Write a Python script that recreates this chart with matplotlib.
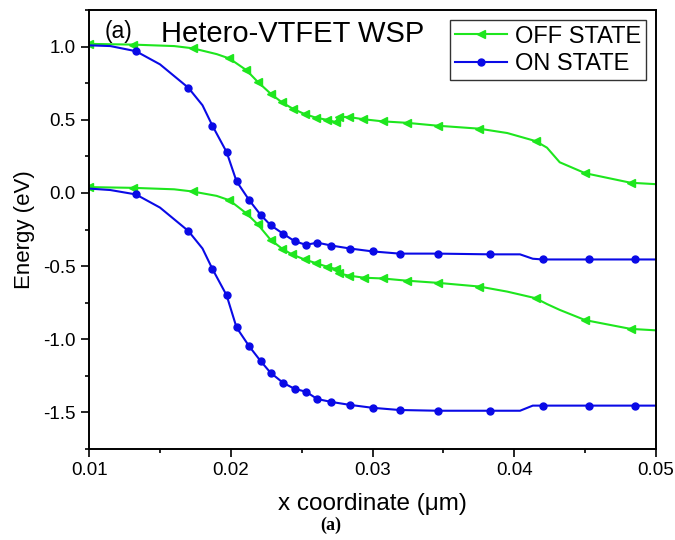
import matplotlib
matplotlib.use("Agg")
import matplotlib.pyplot as plt
from matplotlib.ticker import MultipleLocator, FuncFormatter

plt.rcParams["font.family"] = ["Liberation Sans", "DejaVu Sans"]

# ON STATE, conduction band (upper blue)
on_cb_x = [0.0100, 0.0115, 0.0133, 0.0150, 0.0170, 0.0180, 0.0187, 0.0197, 0.0204,
           0.0213, 0.0221, 0.0228, 0.0237, 0.0245, 0.0253, 0.0261, 0.0271, 0.0284,
           0.0300, 0.0319, 0.0346, 0.0383, 0.0404, 0.0413, 0.0420, 0.0453, 0.0485, 0.0500]
on_cb_y = [1.010, 1.005, 0.970, 0.880, 0.720, 0.600, 0.460, 0.280, 0.080,
           -0.050, -0.150, -0.220, -0.280, -0.330, -0.355, -0.340, -0.360, -0.380,
           -0.400, -0.415, -0.415, -0.420, -0.420, -0.450, -0.455, -0.455, -0.455, -0.455]

# ON STATE, valence band (lower blue)
on_vb_x = [0.0100, 0.0115, 0.0133, 0.0150, 0.0170, 0.0180, 0.0187, 0.0197, 0.0204,
           0.0213, 0.0221, 0.0228, 0.0237, 0.0245, 0.0253, 0.0261, 0.0271, 0.0284,
           0.0300, 0.0319, 0.0346, 0.0383, 0.0404, 0.0413, 0.0420, 0.0453, 0.0485, 0.0500]
on_vb_y = [0.030, 0.020, -0.010, -0.100, -0.260, -0.380, -0.520, -0.700, -0.920,
           -1.050, -1.150, -1.230, -1.300, -1.340, -1.360, -1.410, -1.430, -1.450,
           -1.470, -1.485, -1.490, -1.490, -1.490, -1.455, -1.455, -1.455, -1.455, -1.455]
on_marks = [2, 4, 6, 7, 8, 9, 10, 11, 12, 13, 14, 15, 16, 17, 18, 19, 20, 21, 24, 25, 26]

# OFF STATE, conduction band (upper green)
off_cb_x = [0.0100, 0.0131, 0.0160, 0.0173, 0.0190, 0.0199, 0.0211, 0.0219, 0.0228,
            0.0236, 0.0244, 0.0252, 0.0260, 0.0268, 0.0274, 0.0276, 0.0283, 0.0293,
            0.0307, 0.0324, 0.0346, 0.0375, 0.0395, 0.0415, 0.0423, 0.0432, 0.0450,
            0.0482, 0.0500]
off_cb_y = [1.020, 1.015, 1.005, 0.990, 0.950, 0.920, 0.840, 0.760, 0.680,
            0.620, 0.575, 0.540, 0.515, 0.500, 0.485, 0.520, 0.520, 0.505,
            0.490, 0.480, 0.460, 0.440, 0.410, 0.355, 0.310, 0.210, 0.135,
            0.070, 0.060]

# OFF STATE, valence band (lower green)
off_vb_x = [0.0100, 0.0131, 0.0160, 0.0173, 0.0190, 0.0199, 0.0211, 0.0219, 0.0228,
            0.0236, 0.0243, 0.0252, 0.0260, 0.0268, 0.0274, 0.0276, 0.0283, 0.0294,
            0.0307, 0.0324, 0.0346, 0.0375, 0.0395, 0.0415, 0.0423, 0.0432, 0.0450,
            0.0482, 0.0500]
off_vb_y = [0.040, 0.035, 0.025, 0.010, -0.020, -0.050, -0.140, -0.215, -0.320,
            -0.380, -0.420, -0.455, -0.480, -0.505, -0.520, -0.550, -0.565, -0.580,
            -0.585, -0.600, -0.615, -0.640, -0.675, -0.720, -0.760, -0.800, -0.870,
            -0.930, -0.940]
off_marks = [0, 1, 3, 5, 6, 7, 8, 9, 10, 11, 12, 13, 14, 15, 16, 17, 18, 19, 20, 21, 23, 26, 27]

GREEN = "#1ee61e"
BLUE = "#0a0ae6"

fig = plt.figure(figsize=(6.75, 5.4), dpi=100)
ax = fig.add_axes([0.132, 0.169, 0.840, 0.812])

ax.plot(off_cb_x, off_cb_y, color=GREEN, lw=1.5, marker="<", ms=6,
        markevery=off_marks, label="OFF STATE")
ax.plot(on_cb_x, on_cb_y, color=BLUE, lw=1.5, marker="o", ms=5,
        markevery=on_marks, label="ON STATE")
ax.plot(off_vb_x, off_vb_y, color=GREEN, lw=1.5, marker="<", ms=6, markevery=off_marks)
ax.plot(on_vb_x, on_vb_y, color=BLUE, lw=1.5, marker="o", ms=5, markevery=on_marks)

ax.set_xlim(0.01, 0.05)
ax.set_ylim(-1.75, 1.25)
ax.xaxis.set_major_locator(MultipleLocator(0.01))
ax.xaxis.set_minor_locator(MultipleLocator(0.005))
ax.yaxis.set_major_locator(MultipleLocator(0.5))
ax.yaxis.set_minor_locator(MultipleLocator(0.25))
ax.xaxis.set_major_formatter(FuncFormatter(lambda v, p: f"{v:.2f}"))
ax.yaxis.set_major_formatter(FuncFormatter(lambda v, p: f"{v:.1f}".replace("-0.0", "0.0")))
ax.tick_params(which="both", direction="out", top=False, right=False,
               labelsize=13.5, colors="black", width=1.2)
ax.tick_params(which="major", length=5.5, pad=4)
ax.tick_params(which="minor", length=3)
for s in ax.spines.values():
    s.set_linewidth(1.4)

ax.set_xlabel("x coordinate (\u03bcm)", fontsize=17.5, labelpad=10)
ax.set_ylabel("Energy (eV)", fontsize=16, labelpad=6)

ax.text(0.0111, 1.062, "(a)", fontsize=16.5)
ax.text(0.01508, 1.036, "Hetero-VTFET WSP", fontsize=21)

leg = ax.legend(loc="upper right", fontsize=17, handlelength=2.2, frameon=True,
                fancybox=False, edgecolor="black", borderaxespad=0.43,
                borderpad=0.22, labelspacing=0.22, handletextpad=0.3)
leg.get_frame().set_linewidth(1.0)

fig.text(0.49, 0.028, "(a)", ha="center", va="center", fontsize=13, fontweight="bold",
         family=["Liberation Serif", "DejaVu Serif"])

fig.savefig("out.png", dpi=100)
